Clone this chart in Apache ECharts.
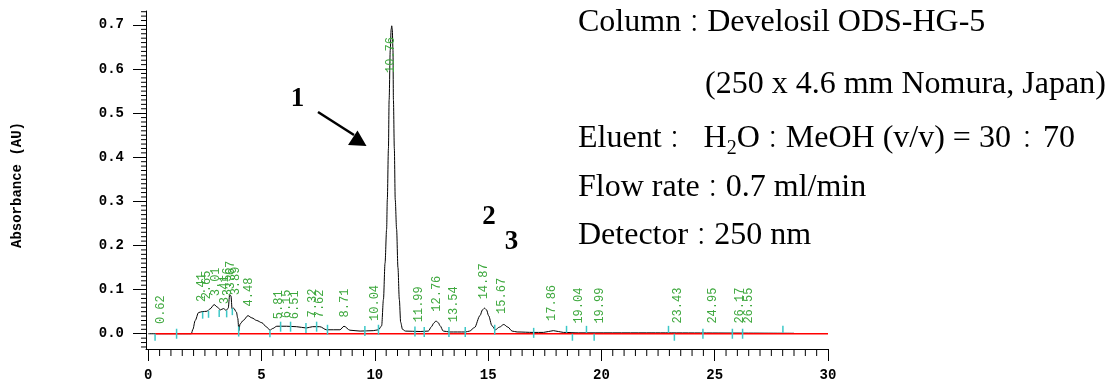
<!DOCTYPE html>
<html>
<head>
<meta charset="utf-8">
<script src="https://cdn.jsdelivr.net/npm/echarts@6/dist/echarts.min.js"></script>
<style>
html,body{margin:0;padding:0;background:#fff;}
#chart{width:1107px;height:382px;}
</style>
</head>
<body>
<div id="chart"></div>
<script>
// ---- data ----
const traceTime = [0.00,1.90,1.97,2.07,2.22,2.37,2.59,2.72,2.91,3.06,3.18,3.32,3.44,3.53,3.59,3.65,3.70,3.77,3.89,3.95,4.00,4.05,4.19,4.40,4.57,4.79,5.01,5.23,5.37,5.50,5.67,6.10,6.54,6.98,7.25,7.57,7.87,8.46,8.64,8.90,9.35,9.93,10.16,10.30,10.38,10.45,10.52,10.55,10.60,10.63,10.68,10.72,10.745,10.77,10.80,10.82,10.86,10.90,10.96,11.02,11.08,11.14,11.22,11.35,12.00,12.36,12.50,12.60,12.70,12.80,12.88,13.02,13.30,14.00,14.18,14.40,14.64,14.75,14.84,14.93,15.02,15.17,15.32,15.50,15.69,15.87,16.06,16.28,17.00,17.44,17.66,17.88,18.10,18.32,19.00,22.00,28.50];
const traceAbs  = [0.000,0.000,0.010,0.030,0.048,0.050,0.051,0.056,0.066,0.060,0.054,0.057,0.053,0.058,0.087,0.086,0.056,0.058,0.049,0.035,0.007,0.022,0.030,0.041,0.036,0.030,0.025,0.015,0.008,0.012,0.017,0.017,0.016,0.013,0.016,0.016,0.009,0.009,0.017,0.008,0.006,0.007,0.009,0.018,0.078,0.160,0.237,0.304,0.420,0.530,0.643,0.690,0.698,0.690,0.643,0.530,0.420,0.304,0.237,0.150,0.078,0.026,0.010,0.006,0.005,0.006,0.016,0.024,0.029,0.025,0.018,0.006,0.004,0.004,0.006,0.014,0.041,0.054,0.058,0.054,0.041,0.018,0.009,0.015,0.021,0.015,0.006,0.004,0.003,0.003,0.005,0.007,0.005,0.003,0.002,0.002,0.001];

const baselineTime = [0.30, 30.0];
const baselineAbs  = [0, 0];

// retention-time labels: text, x (min), y (AU) of label foot
const peakLabels   = ['0.62','2.41','2.65','3.01','3.41','3.56','3.67','3.89','4.48','5.81','6.15','6.51','7.32','7.62','8.71','10.04','10.76','11.99','12.76','13.54','14.87','15.67','17.86','19.04','19.99','23.43','24.95','26.17','26.55'];
const peakLabelX   = [0.62,2.41,2.65,3.01,3.41,3.56,3.67,3.89,4.48,5.81,6.15,6.51,7.32,7.62,8.71,10.04,10.76,11.99,12.76,13.54,14.87,15.67,17.86,19.04,19.99,23.43,24.95,26.17,26.55];
const peakLabelY   = [0.022,0.072,0.078,0.085,0.067,0.085,0.100,0.087,0.062,0.033,0.035,0.033,0.037,0.035,0.037,0.029,0.591,0.026,0.050,0.026,0.078,0.045,0.029,0.023,0.023,0.023,0.023,0.023,0.023];

// integration markers: time, absorbance, kind (c = centred, u = up, d = down)
const markTime = [0.30,1.25,2.40,2.66,3.13,3.46,3.71,3.99,5.37,5.84,6.28,6.96,7.43,7.91,9.56,10.16,11.77,12.18,13.27,13.99,15.29,17.01,18.46,18.72,19.34,19.68,22.96,23.22,24.48,25.78,26.23,28.01];
const markAbs  = [0,0,0.050,0.052,0.054,0.053,0.058,0.005,0.008,0.016,0.016,0.013,0.016,0.009,0.006,0.009,0.005,0.004,0.004,0.004,0.009,0.002,0.002,0.0,0.002,0.0,0.002,0.0,0.0,0.0,0.0,0.002];
const markKind = ['d','c','d','d','d','d','d','c','d','c','c','c','c','c','c','c','c','c','c','c','c','c','u','d','u','d','u','d','c','c','c','u'];

const xMajorTicks = [0,5,10,15,20,25,30];
const xMinorTicks = [0.5,1,1.5,2,2.5,3,3.5,4,4.5,5.5,6,6.5,7,7.5,8,8.5,9,9.5,10.5,11,11.5,12,12.5,13,13.5,14,14.5,15.5,16,16.5,17,17.5,18,18.5,19,19.5,20.5,21,21.5,22,22.5,23,23.5,24,24.5,25.5,26,26.5,27,27.5,28,28.5,29,29.5];
const yMajorTicks = [0,0.1,0.2,0.3,0.4,0.5,0.6,0.7];
const yMinorTicks = [-0.03,-0.02,-0.01,0.01,0.02,0.03,0.04,0.05,0.06,0.07,0.08,0.09,0.11,0.12,0.13,0.14,0.15,0.16,0.17,0.18,0.19,0.21,0.22,0.23,0.24,0.25,0.26,0.27,0.28,0.29,0.31,0.32,0.33,0.34,0.35,0.36,0.37,0.38,0.39,0.41,0.42,0.43,0.44,0.45,0.46,0.47,0.48,0.49,0.51,0.52,0.53,0.54,0.55,0.56,0.57,0.58,0.59,0.61,0.62,0.63,0.64,0.65,0.66,0.67,0.68,0.69,0.71,0.72,0.73];

const yAxisName = 'Absorbance (AU)';
const peakNumbers = ['1','2','3'];

// ---- chart ----
const X_MIN = -0.1, X_MAX = 30, Y_MIN = -0.0346, Y_MAX = 0.7316;
const chart = echarts.init(document.getElementById('chart'));
const monoBold = {fontFamily:'Liberation Mono', fontWeight:'bold', fontSize:14, color:'#000'};
const FS = 32;
const serifFam = '"Liberation Serif", serif';
const colonFam = '"Noto Sans CJK JP", "Noto Sans CJK TC", sans-serif';
const richStyles = {
  a:{fontSize:FS, fontFamily:serifFam, color:'#000'},
  c:{fontSize:26, fontFamily:colonFam, color:'#000', fontWeight:'lighter'},
  w:{fontSize:26, fontFamily:colonFam, color:'#000', fontWeight:'lighter', padding:[0,3,0,3]},
  s:{fontSize:20, fontFamily:serifFam, color:'#000', verticalAlign:'bottom'}
};
function noteText(x, y, str){
  return {type:'text', x:x, y:y, style:{text:str, verticalAlign:'middle', rich:richStyles, lineHeight:40}};
}
const TICK = '#000';

chart.setOption({
  animation:false,
  backgroundColor:'#fff',
  grid:{left:146, right:279, top:11, bottom:32},
  xAxis:[{
    type:'value', min:X_MIN, max:X_MAX, position:'bottom', splitLine:{show:false},
    axisLine:{show:true, onZero:false, lineStyle:{color:'#000', width:1}},
    axisTick:{show:true, customValues:xMajorTicks, length:12, lineStyle:{color:TICK, width:1}},
    axisLabel:Object.assign({show:true, customValues:xMajorTicks, margin:19, formatter:v=>String(v)}, monoBold)
  }],
  yAxis:[{
    type:'value', min:Y_MIN, max:Y_MAX, position:'left', splitLine:{show:false},
    axisLine:{show:true, onZero:false, lineStyle:{color:'#000', width:1}},
    axisTick:{show:true, customValues:yMajorTicks, length:13, lineStyle:{color:TICK, width:1}},
    axisLabel:Object.assign({show:true, customValues:yMajorTicks, margin:22, formatter:v=>v.toFixed(1)}, monoBold)
  }],
  series:[
    {
      type:'line', symbol:'none', smooth:0.3, smoothMonotone:'x',
      lineStyle:{color:'#000', width:1}, z:2,
      data:traceTime.map((t,i)=>[t, traceAbs[i]])
    },
    {
      type:'line', symbol:'none',
      lineStyle:{color:'#ff0000', width:1.5}, z:3,
      data:baselineTime.map((t,i)=>[t, baselineAbs[i]])
    },
    {
      type:'custom', z:4, clip:false,
      data:markTime.map((t,i)=>[t, markAbs[i]]),
      renderItem:function(params, api){
        const p = api.coord([api.value(0), api.value(1)]);
        const k = markKind[params.dataIndex];
        let y1 = p[1]-5, y2 = p[1]+5;
        if (k === 'u') { y1 = p[1]-7; y2 = p[1]; }
        if (k === 'd') { y1 = p[1]; y2 = p[1]+7; }
        return {type:'line', shape:{x1:p[0], y1:y1, x2:p[0], y2:y2}, style:{stroke:'#3cc8c8', lineWidth:1.5}};
      }
    },
    {
      type:'custom', z:5, clip:false,
      data:peakLabelX.map((t,i)=>[t, peakLabelY[i]]),
      renderItem:function(params, api){
        const p = api.coord([api.value(0), api.value(1)]);
        return {type:'text', x:p[0]-1, y:p[1], rotation:Math.PI/2,
          style:{text:peakLabels[params.dataIndex], font:'12px "Liberation Mono"', fill:'#3ea83e', align:'left', verticalAlign:'middle'}};
      }
    },
    { // minor ticks of the time axis
      type:'custom', clip:false,
      data:xMinorTicks.map(t=>[t, Y_MIN]),
      renderItem:function(params, api){
        const p = api.coord([api.value(0), api.value(1)]);
        return {type:'line', shape:{x1:p[0], y1:p[1], x2:p[0], y2:p[1]+7}, style:{stroke:TICK, lineWidth:1}};
      }
    },
    { // minor ticks of the absorbance axis
      type:'custom', clip:false,
      data:yMinorTicks.map(v=>[X_MIN, v]),
      renderItem:function(params, api){
        const p = api.coord([api.value(0), api.value(1)]);
        return {type:'line', shape:{x1:p[0]-5, y1:p[1], x2:p[0], y2:p[1]}, style:{stroke:TICK, lineWidth:1}};
      }
    }
  ],
  graphic:[
    {type:'text', x:17, y:185, rotation:Math.PI/2,
     style:{text:yAxisName, font:'bold 14px "Liberation Mono"', fill:'#000', align:'center', verticalAlign:'middle'}},
    noteText(578, 23, '{a|Column}{c|：}{a|Develosil ODS-HG-5}'),
    noteText(705, 85, '{a|(250 x 4.6 mm Nomura, Japan)}'),
    noteText(578, 139, '{a|Eluent}{c|：}{a|  H}{s|2}{a|O}{c|：}{a|MeOH (v/v) = 30}{w|：}{a|70}'),
    noteText(578, 188, '{a|Flow rate}{c|：}{a|0.7 ml/min}'),
    noteText(578, 236, '{a|Detector}{c|：}{a|250 nm}'),
    {type:'text', x:297.5, y:99, style:{text:peakNumbers[0], font:'bold 27px "Liberation Serif"', fill:'#000', align:'center', verticalAlign:'middle'}},
    {type:'text', x:489, y:217.5, style:{text:peakNumbers[1], font:'bold 27px "Liberation Serif"', fill:'#000', align:'center', verticalAlign:'middle'}},
    {type:'text', x:511.5, y:242.5, style:{text:peakNumbers[2], font:'bold 27px "Liberation Serif"', fill:'#000', align:'center', verticalAlign:'middle'}},
    {type:'line', shape:{x1:318, y1:112, x2:354, y2:135}, style:{stroke:'#000', lineWidth:2.5}},
    {type:'polygon', shape:{points:[[348,145],[366.5,146],[357.5,130.5]]}, style:{fill:'#000'}}
  ]
});
</script>
</body>
</html>
